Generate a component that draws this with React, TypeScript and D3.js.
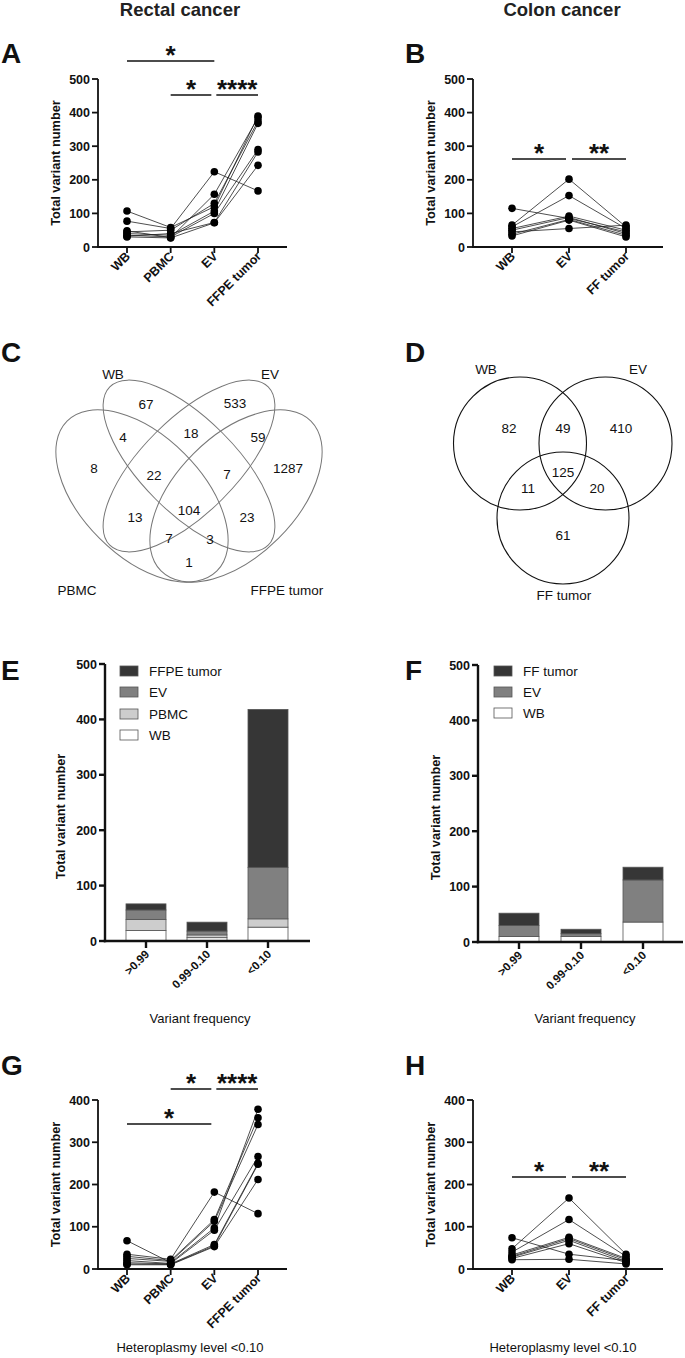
import React from 'react';
import * as d3 from 'd3';

const FONT = '"Liberation Sans", Arial, Helvetica, sans-serif';

// ---------- Data ----------
const rectalCats = ['WB', 'PBMC', 'EV', 'FFPE tumor'];
const colonCats = ['WB', 'EV', 'FF tumor'];

// Panel A (rectal, all variants) – one entry per patient
const A_WB = [107, 77, 48, 45, 40, 35, 32, 30];
const A_PBMC = [58, 55, 28, 50, 35, 30, 40, 27];
const A_EV = [120, 224, 157, 130, 107, 100, 73, 72];
const A_FFPE = [390, 167, 385, 375, 368, 290, 283, 243];

// Panel B (colon, all variants)
const B_WB = [115, 65, 60, 55, 50, 45, 38, 33];
const B_EV = [85, 202, 153, 92, 88, 55, 82, 80];
const B_FF = [45, 60, 55, 50, 40, 65, 35, 30];

// Panel G (rectal, heteroplasmy < 0.10)
const G_WB = [67, 35, 30, 25, 20, 15, 12, 10];
const G_PBMC = [15, 23, 20, 18, 13, 12, 11, 10];
const G_EV = [97, 182, 117, 113, 92, 58, 55, 53];
const G_FFPE = [378, 131, 358, 342, 266, 250, 248, 212];

// Panel H (colon, heteroplasmy < 0.10)
const H_WB = [74, 48, 40, 33, 30, 28, 25, 22];
const H_EV = [35, 168, 117, 75, 72, 68, 60, 23];
const H_FF = [20, 35, 30, 25, 22, 18, 15, 12];

// Panels E / F (stacked bars by variant frequency)
const freqCats = ['>0.99', '0.99-0.10', '<0.10'];
const E_WB = [19, 6, 25];
const E_PBMC = [20, 5, 15];
const E_EV = [17, 7, 93];
const E_FFPE = [11, 16, 285];
const F_WB = [10, 10, 36];
const F_EV = [20, 5, 76];
const F_FF = [22, 8, 23];

// Venn counts
const vennC = [
  { label: '67', x: 146, y: 404 }, { label: '533', x: 235, y: 403 },
  { label: '4', x: 123, y: 437 }, { label: '18', x: 191, y: 433 }, { label: '59', x: 258, y: 437 },
  { label: '8', x: 94, y: 468 }, { label: '22', x: 154, y: 475 }, { label: '7', x: 227, y: 474 },
  { label: '1287', x: 288, y: 468 }, { label: '13', x: 135, y: 517 }, { label: '104', x: 189, y: 510 },
  { label: '23', x: 247, y: 517 }, { label: '7', x: 169, y: 538 }, { label: '3', x: 210, y: 539 },
  { label: '1', x: 189, y: 562 },
];
const vennD = [
  { label: '82', x: 509, y: 428 }, { label: '49', x: 563, y: 428 }, { label: '410', x: 621, y: 428 },
  { label: '125', x: 563, y: 472 }, { label: '11', x: 528, y: 488 }, { label: '20', x: 597, y: 488 },
  { label: '61', x: 563, y: 535 },
];

const yTicks500 = [0, 100, 200, 300, 400, 500];
const yTicks400 = [0, 100, 200, 300, 400];

type Sig = { a: string; b: string; label: string; y: number; d1?: number; d2?: number };

function YAxis({ x, yScale, ticks, w }: any) {
  const [r0, r1] = yScale.range();
  return (
    <g>
      <line x1={x} x2={x} y1={r0 + w / 2} y2={r1} stroke="#111" strokeWidth={w} />
      {ticks.map((t: number) => (
        <g key={t}>
          <line x1={x - 6} x2={x} y1={yScale(t)} y2={yScale(t)} stroke="#111" strokeWidth={w} />
          <text x={x - 8} y={yScale(t)} dy="0.36em" textAnchor="end" fontSize={12.5} fontWeight={700}
            fontFamily={FONT} fill="#111">{t}</text>
        </g>
      ))}
    </g>
  );
}

function YLabel({ x, y, text }: any) {
  return (
    <text transform={`translate(${x},${y}) rotate(-90)`} textAnchor="middle" dy="0.36em" fontSize={12.8}
      fontWeight={700} fontFamily={FONT} fill="#111">{text}</text>
  );
}

function XAxis({ x0, x1, y, xScale, cats, w, tickLen, fs, dy }: any) {
  return (
    <g>
      <line x1={x0 - w / 2} x2={x1} y1={y} y2={y} stroke="#111" strokeWidth={w} />
      {cats.map((c: string) => (
        <g key={c}>
          <line x1={xScale(c)} x2={xScale(c)} y1={y} y2={y + tickLen} stroke="#111" strokeWidth={w} />
          <text transform={`translate(${xScale(c) + 4},${y + dy}) rotate(-45)`} textAnchor="end"
            fontSize={fs} fontWeight={700} fontFamily={FONT} fill="#111">{c}</text>
        </g>
      ))}
    </g>
  );
}

function PairedPanel({ cats, series, yMax, ticks, yRange, xRange, axisX, axisEnd, sigs, yLabelX }: any) {
  const y = d3.scaleLinear().domain([0, yMax]).range(yRange);
  const x = d3.scalePoint<string>().domain(cats).range(xRange);
  const nP = series[0].length;
  const line = d3.line<[number, number]>().x(d => d[0]).y(d => d[1]);
  const patients = d3.range(nP).map(i => cats.map((c: string, j: number) => [x(c)!, y(series[j][i])] as [number, number]));
  return (
    <g>
      <YLabel x={yLabelX} y={(yRange[0] + yRange[1]) / 2} text="Total variant number" />
      {patients.map((p, i) => (
        <path key={i} d={line(p)!} fill="none" stroke="#222" strokeWidth={0.8} />
      ))}
      {patients.map((p, i) => p.map((pt, j) => (
        <circle key={`${i}-${j}`} cx={pt[0]} cy={pt[1]} r={3.8} fill="#000" />
      )))}
      <YAxis x={axisX} yScale={y} ticks={ticks} w={1.8} />
      <XAxis x0={axisX} x1={axisEnd} y={yRange[0]} xScale={x} cats={cats} w={1.8} tickLen={6} fs={12.5} dy={10} />
      {sigs.map((s: Sig, i: number) => {
        const xa = x(s.a)! + (s.d1 || 0);
        const xb = x(s.b)! + (s.d2 || 0);
        return (
          <g key={i}>
            <line x1={xa} x2={xb} y1={s.y} y2={s.y} stroke="#111" strokeWidth={1.6} />
            <text x={(xa + xb) / 2} y={s.y + 3} textAnchor="middle" fontSize={26} fontWeight={700}
              fontFamily={FONT} fill="#111">{s.label}</text>
          </g>
        );
      })}
    </g>
  );
}

function StackedPanel({ cats, keys, values, colors, yRange, xRange, axisX, axisEnd, barW, legendX, legendYs, yLabelX, xTitleX, xTitleY }: any) {
  const y = d3.scaleLinear().domain([0, 500]).range(yRange);
  const x = d3.scalePoint<string>().domain(cats).range(xRange);
  const rows = cats.map((c: string, i: number) => {
    const r: any = { cat: c };
    keys.forEach((k: string, j: number) => { r[k] = values[j][i]; });
    return r;
  });
  const stacked = d3.stack<any>().keys(keys)(rows);
  const legendOrder = [...keys].reverse();
  return (
    <g>
      <YLabel x={yLabelX} y={(yRange[0] + yRange[1]) / 2 + 14} text="Total variant number" />
      {stacked.map((layer, li) => (
        <g key={keys[li]}>
          {layer.map((d, i) => (
            <rect key={i} x={x(cats[i])! - barW / 2} width={barW} y={y(d[1])} height={y(d[0]) - y(d[1])}
              fill={colors[li]} stroke="#555" strokeWidth={0.8} />
          ))}
        </g>
      ))}
      <YAxis x={axisX} yScale={y} ticks={yTicks500} w={2.4} />
      <XAxis x0={axisX} x1={axisEnd} y={yRange[0]} xScale={x} cats={cats} w={2.4} tickLen={7} fs={11.5} dy={14} />
      {legendOrder.map((k: string, i: number) => {
        const ci = keys.indexOf(k);
        return (
          <g key={k}>
            <rect x={legendX} y={legendYs[i] - 5} width={18} height={10} fill={colors[ci]} stroke="#555" strokeWidth={0.8} />
            <text x={legendX + 29} y={legendYs[i]} dy="0.36em" fontSize={13.5} fontFamily={FONT} fill="#111">{k}</text>
          </g>
        );
      })}
      <text x={xTitleX} y={xTitleY} textAnchor="middle" fontSize={13} fontFamily={FONT} fill="#111">Variant frequency</text>
    </g>
  );
}

function PanelLetter({ x, y, l }: any) {
  return <text x={x} y={y} fontSize={28} fontWeight={700} fontFamily={FONT} fill="#111">{l}</text>;
}

export default function App() {
  const vText = (d: any, i: number) => (
    <text key={i} x={d.x} y={d.y} dy="0.36em" textAnchor="middle" fontSize={13.5} fontFamily={FONT} fill="#111">{d.label}</text>
  );
  const vc = { stroke: '#777', strokeWidth: 1, fill: 'none' };
  return (
    <svg width={685} height={1358} style={{ position: 'absolute', left: 0, top: 0, background: '#fff' }}>
      <rect width={685} height={1358} fill="#fff" />
      <text x={180} y={16} textAnchor="middle" fontSize={18.5} fontWeight={700} fontFamily={FONT} fill="#222">Rectal cancer</text>
      <text x={562} y={16} textAnchor="middle" fontSize={18.5} fontWeight={700} fontFamily={FONT} fill="#222">Colon cancer</text>

      {/* A */}
      <PanelLetter x={1} y={63} l="A" />
      <PairedPanel cats={rectalCats} series={[A_WB, A_PBMC, A_EV, A_FFPE]} yMax={500} ticks={yTicks500}
        yRange={[247, 79]} xRange={[127, 258]} axisX={98} axisEnd={287} yLabelX={55}
        sigs={[
          { a: 'WB', b: 'EV', label: '*', y: 61 },
          { a: 'PBMC', b: 'EV', label: '*', y: 95, d2: -3 },
          { a: 'EV', b: 'FFPE tumor', label: '****', y: 95, d1: 2 },
        ]} />

      {/* B */}
      <PanelLetter x={405} y={63} l="B" />
      <PairedPanel cats={colonCats} series={[B_WB, B_EV, B_FF]} yMax={500} ticks={yTicks500}
        yRange={[247, 79]} xRange={[512, 626]} axisX={473} axisEnd={663} yLabelX={430}
        sigs={[
          { a: 'WB', b: 'EV', label: '*', y: 159, d2: -3 },
          { a: 'EV', b: 'FF tumor', label: '**', y: 159, d1: 3 },
        ]} />

      {/* C */}
      <PanelLetter x={1} y={362} l="C" />
      <ellipse cx={142} cy={496} rx={106} ry={60} transform="rotate(45 142 496)" {...vc} />
      <ellipse cx={189} cy={466} rx={112} ry={47} transform="rotate(45 189 466)" {...vc} />
      <ellipse cx={189} cy={466} rx={112} ry={47} transform="rotate(-45 189 466)" {...vc} />
      <ellipse cx={236} cy={496} rx={106} ry={60} transform="rotate(-45 236 496)" {...vc} />
      <text x={113} y={374} dy="0.36em" textAnchor="middle" fontSize={13.5} fontFamily={FONT} fill="#111">WB</text>
      <text x={270} y={374} dy="0.36em" textAnchor="middle" fontSize={13.5} fontFamily={FONT} fill="#111">EV</text>
      <text x={77} y={590} dy="0.36em" textAnchor="middle" fontSize={13.5} fontFamily={FONT} fill="#111">PBMC</text>
      <text x={287} y={590} dy="0.36em" textAnchor="middle" fontSize={13.5} fontFamily={FONT} fill="#111">FFPE tumor</text>
      {vennC.map(vText)}

      {/* D */}
      <PanelLetter x={405} y={362} l="D" />
      <circle cx={520} cy={443.5} r={66.5} stroke="#111" strokeWidth={1.1} fill="none" />
      <circle cx={605.5} cy={443.5} r={66.5} stroke="#111" strokeWidth={1.1} fill="none" />
      <circle cx={563} cy={518} r={66} stroke="#111" strokeWidth={1.1} fill="none" />
      <text x={486} y={369} dy="0.36em" textAnchor="middle" fontSize={13.5} fontFamily={FONT} fill="#111">WB</text>
      <text x={638} y={369} dy="0.36em" textAnchor="middle" fontSize={13.5} fontFamily={FONT} fill="#111">EV</text>
      <text x={564} y={595} dy="0.36em" textAnchor="middle" fontSize={13.5} fontFamily={FONT} fill="#111">FF tumor</text>
      {vennD.map(vText)}

      {/* E */}
      <PanelLetter x={1} y={680} l="E" />
      <StackedPanel cats={freqCats} keys={['WB', 'PBMC', 'EV', 'FFPE tumor']} values={[E_WB, E_PBMC, E_EV, E_FFPE]}
        colors={['#ffffff', '#cdcdcd', '#808080', '#363636']} yRange={[941, 664]} xRange={[146, 268]}
        axisX={105} axisEnd={310} barW={40} legendX={120} legendYs={[671, 692, 714, 735]} yLabelX={60}
        xTitleX={200} xTitleY={1023} />

      {/* F */}
      <PanelLetter x={405} y={680} l="F" />
      <StackedPanel cats={freqCats} keys={['WB', 'EV', 'FF tumor']} values={[F_WB, F_EV, F_FF]}
        colors={['#ffffff', '#808080', '#363636']} yRange={[942, 665]} xRange={[519, 643]}
        axisX={478} axisEnd={683} barW={40} legendX={494} legendYs={[671, 692, 713]} yLabelX={435}
        xTitleX={585} xTitleY={1023} />

      {/* G */}
      <PanelLetter x={1} y={1075} l="G" />
      <PairedPanel cats={rectalCats} series={[G_WB, G_PBMC, G_EV, G_FFPE]} yMax={400} ticks={yTicks400}
        yRange={[1269, 1100]} xRange={[127, 258]} axisX={98} axisEnd={287} yLabelX={55}
        sigs={[
          { a: 'PBMC', b: 'EV', label: '*', y: 1089, d2: -3 },
          { a: 'EV', b: 'FFPE tumor', label: '****', y: 1089, d1: 2 },
          { a: 'WB', b: 'EV', label: '*', y: 1124, d2: -3 },
        ]} />
      <text x={190} y={1352} textAnchor="middle" fontSize={13} fontFamily={FONT} fill="#111">Heteroplasmy level &lt;0.10</text>

      {/* H */}
      <PanelLetter x={405} y={1075} l="H" />
      <PairedPanel cats={colonCats} series={[H_WB, H_EV, H_FF]} yMax={400} ticks={yTicks400}
        yRange={[1269, 1100]} xRange={[512, 626]} axisX={473} axisEnd={663} yLabelX={430}
        sigs={[
          { a: 'WB', b: 'EV', label: '*', y: 1177, d2: -3 },
          { a: 'EV', b: 'FF tumor', label: '**', y: 1177, d1: 3 },
        ]} />
      <text x={563} y={1352} textAnchor="middle" fontSize={13} fontFamily={FONT} fill="#111">Heteroplasmy level &lt;0.10</text>
    </svg>
  );
}
